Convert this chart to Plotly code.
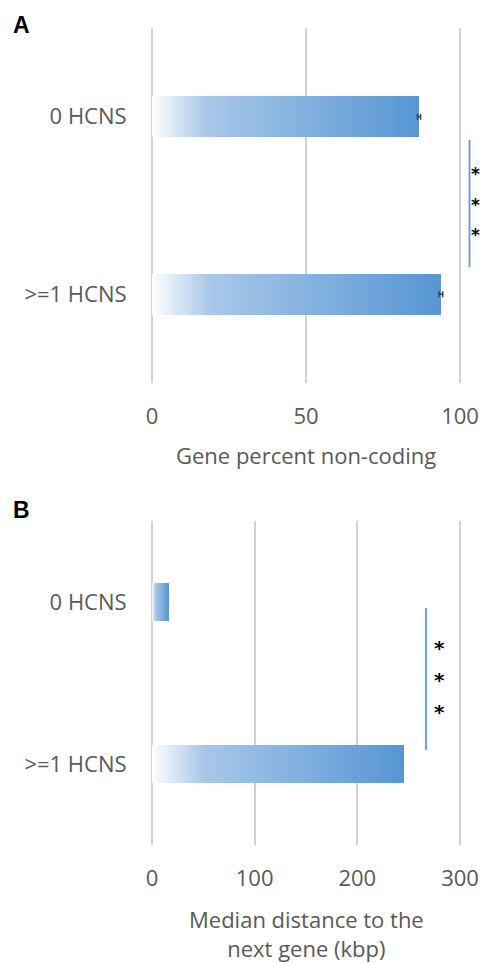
import plotly.graph_objects as go

# ---- data ----
categories = ["0 HCNS", ">=1 HCNS"]
pct_noncoding = [86.7, 93.8]
pct_noncoding_err = [0.5, 0.6]
median_dist_kbp = [16.5, 245.0]
ticks_a = [0, 50, 100]
ticks_b = [0, 100, 200, 300]

W, H = 481, 963
TXT = "#595959"
BLUE = "#5B9BD5"
FONT = "Open Sans"
ypos = list(range(len(categories)))

# gradient color stops (fraction along bar -> rgb)
stops = [(0.0, (255, 255, 255)), (0.2, (168, 200, 233)), (1.0, (86, 150, 211))]


def grad(t):
    for (t0, c0), (t1, c1) in zip(stops[:-1], stops[1:]):
        if t <= t1:
            f = (t - t0) / (t1 - t0)
            c = [round(a + (b - a) * f) for a, b in zip(c0, c1)]
            return "rgb(%d,%d,%d)" % tuple(c)
    return "rgb(%d,%d,%d)" % stops[-1][1]


N = 80
fig = go.Figure()


def add_gradient_bars(values, xa, ya, width):
    for i in range(N):
        t = i / N
        fig.add_trace(go.Bar(
            y=ypos, x=[v * (1 - t) for v in values],
            base=[v * t for v in values], orientation="h",
            marker=dict(color=grad(t + 0.5 / N), line=dict(width=0)),
            width=width, xaxis=xa, yaxis=ya, showlegend=False, hoverinfo="skip"))


add_gradient_bars(pct_noncoding, "x", "y", 0.23)
add_gradient_bars(median_dist_kbp, "x2", "y2", 0.235)

# error bars panel A
fig.add_trace(go.Scatter(
    y=ypos, x=pct_noncoding, mode="markers",
    marker=dict(opacity=0, size=1),
    error_x=dict(type="data", array=pct_noncoding_err, color="#404040",
                 thickness=1.5, width=3),
    xaxis="x", yaxis="y", showlegend=False, hoverinfo="skip"))

# pixel geometry: value 0 at x=152, top value at x=460; pad range so edge gridlines show
PAD_PX = 2.0
x0px, x1px = 152, 460
dom = [(x0px - PAD_PX) / W, (x1px + PAD_PX) / W]


def padded(maxv):
    upp = maxv / (x1px - x0px)
    return [-PAD_PX * upp, maxv + PAD_PX * upp]


axis_font = dict(family=FONT, size=22, color=TXT)
grid = "rgba(0,0,0,0.18)"

common_x = dict(showgrid=True, gridcolor=grid, gridwidth=1.5, zeroline=False,
                showline=False, ticks="outside", ticklen=14,
                tickcolor="rgba(0,0,0,0)", tickfont=axis_font,
                layer="above traces", fixedrange=True, automargin=False)
common_y = dict(range=[1.5, -0.5], showgrid=False, zeroline=False,
                showline=False, ticks="outside", ticklen=18,
                tickvals=ypos, ticktext=categories,
                tickcolor="rgba(0,0,0,0)", tickfont=axis_font, fixedrange=True,
                automargin=False)

fig.update_layout(
    width=W, height=H, autosize=False, margin=dict(l=0, r=0, t=0, b=0, autoexpand=False),
    paper_bgcolor="white", plot_bgcolor="white", showlegend=False,
    barmode="overlay", bargap=0,
    xaxis=dict(domain=dom, range=padded(100), tickvals=ticks_a, anchor="y", **common_x),
    yaxis=dict(domain=[1 - 383 / H, 1 - 28 / H], anchor="x", **common_y),
    xaxis2=dict(domain=dom, range=padded(300), tickvals=ticks_b, anchor="y2", **common_x),
    yaxis2=dict(domain=[1 - 845 / H, 1 - 521 / H], anchor="x2", **common_y),
)

ann = []
# axis titles
ann.append(dict(text="Gene percent non-coding", x=306 / W, y=1 - 455 / H,
                xref="paper", yref="paper", showarrow=False,
                font=dict(family=FONT, size=22, color=TXT), xanchor="center", yanchor="middle"))
ann.append(dict(text="Median distance to the<br>next gene (kbp)", x=306 / W, y=1 - 933 / H,
                xref="paper", yref="paper", showarrow=False, align="center",
                font=dict(family=FONT, size=22, color=TXT), xanchor="center", yanchor="middle"))
# panel letters
for letter, yy in [("A", 25), ("B", 510)]:
    ann.append(dict(text="<b>%s</b>" % letter, x=21 / W, y=1 - yy / H, xref="paper", yref="paper",
                    showarrow=False, xanchor="center", yanchor="middle",
                    font=dict(family="Liberation Sans", size=23, color="black")))

# significance asterisks
for yy in [0.30, 0.475, 0.645]:
    ann.append(dict(text="<b>*</b>", x=475.5 / W, y=yy, xref="paper", yref="y", showarrow=False,
                    xanchor="center", yanchor="middle", yshift=-4,
                    font=dict(family="DejaVu Sans", size=17, color="black")))
for yy in [0.253, 0.45, 0.648]:
    ann.append(dict(text="<b>*</b>", x=439 / W, y=yy, xref="paper", yref="y2", showarrow=False,
                    xanchor="center", yanchor="middle", yshift=-5,
                    font=dict(family="DejaVu Sans", size=20, color="black")))

shapes = []
# significance brackets
shapes.append(dict(type="line", xref="paper", yref="y", x0=469.5 / W, x1=469.5 / W,
                   y0=0.13, y1=0.847, line=dict(color=BLUE, width=1.8)))
shapes.append(dict(type="line", xref="paper", yref="y2", x0=426 / W, x1=426 / W,
                   y0=0.037, y1=0.914, line=dict(color=BLUE, width=1.8)))

fig.update_layout(annotations=ann, shapes=shapes)
fig.write_html(
    "out.html",
    config={"displayModeBar": False, "responsive": False},
    default_width="481px", default_height="963px",
    post_script="document.body.style.margin='0';document.body.style.padding='0';"
                "document.documentElement.style.overflow='hidden';"
                "document.body.style.overflow='hidden';",
)
